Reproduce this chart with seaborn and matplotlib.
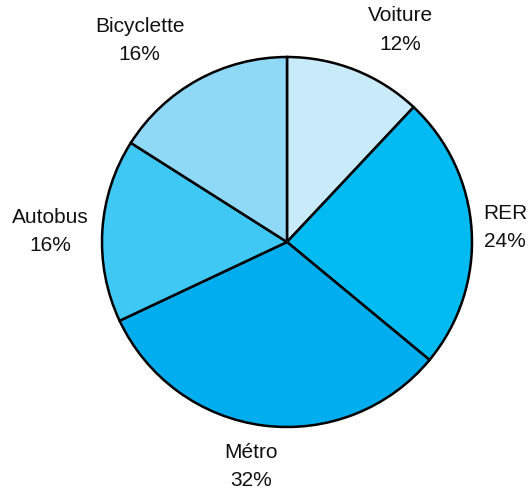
import matplotlib
matplotlib.use("Agg")
import matplotlib.pyplot as plt
import seaborn as sns

# Modes de transport et parts (%)
modes = ["Voiture", "RER", "Métro", "Autobus", "Bicyclette"]
parts = [12, 24, 32, 16, 16]
couleurs = ["#c8eaf9", "#00baf2", "#00adee", "#40c8f4", "#8fd8f6"]

# Position de chaque étiquette (unités du rayon)
label_pos = [(0.611, 1.146), (1.178, 0.078), (-0.193, -1.215), (-1.281, 0.057), (-0.796, 1.089)]

sns.set_theme(style="white")
plt.rcParams["font.family"] = ["Liberation Sans", "DejaVu Sans"]

fig = plt.figure(figsize=(5.30, 4.93), dpi=100)
ax = fig.add_axes([0, 0, 1, 1])

ax.pie(parts, colors=couleurs, startangle=90, counterclock=False,
       radius=1.0, center=(0, 0),
       wedgeprops=dict(edgecolor="black", linewidth=1.8))

for nom, val, (x, y) in zip(modes, parts, label_pos):
    ax.text(x, y, f"{nom}\n{val}%", ha="center", va="center",
            fontsize=15, color="#111111", linespacing=1.62)

ax.set_xlim(-287 / 185, (530 - 287) / 185)
ax.set_ylim(-251 / 185, 242 / 185)
ax.set_aspect("auto")
ax.axis("off")

fig.savefig("out.png", dpi=100)
